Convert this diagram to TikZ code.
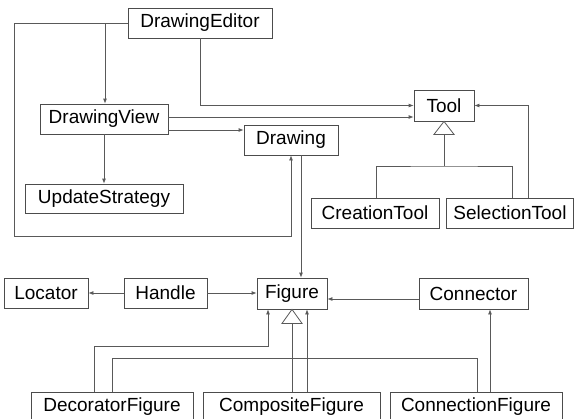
\documentclass[tikz,border=0pt]{standalone}
\usepackage{fontspec}
\setmainfont{Liberation Sans}
\usetikzlibrary{arrows.meta}
\begin{document}
\begin{tikzpicture}[x=1pt,y=-1pt,
  cls/.style={draw=black!70,line width=0.8pt,fill=white,inner sep=0pt,
    minimum height=30pt,font=\fontsize{19}{22}\selectfont,text=black},
  conn/.style={draw=black!65,line width=0.8pt},
  arr/.style={conn,-{Latex[length=5pt,width=4pt]}},
  inh/.style={draw=black!65,line width=0.8pt,fill=white}]
\useasboundingbox (0,0) rectangle (575,418);
% classes
\node[cls,minimum width=144pt] (de) at (200,23) {DrawingEditor};
\node[cls,minimum width=128pt] (dv) at (104,119) {DrawingView};
\node[cls,minimum width=158pt,minimum height=29pt] (us) at (104,198.5) {UpdateStrategy};
\node[cls,minimum width=94pt] (dr) at (291,140) {Drawing};
\node[cls,minimum width=60pt,minimum height=31pt] (tool) at (444,105.5) {Tool};
\node[cls,minimum width=128pt] (ct) at (375,213) {CreationTool};
\node[cls,minimum width=127pt] (st) at (510,213) {SelectionTool};
\node[cls,minimum width=84pt] (loc) at (46,293) {Locator};
\node[cls,minimum width=83pt] (hd) at (165.5,293) {Handle};
\node[cls,minimum width=70pt,minimum height=31pt] (fig) at (292,293.5) {Figure};
\node[cls,minimum width=109pt,minimum height=31pt] (cn) at (473.5,293.5) {Connector};
\node[cls,minimum width=162pt] (df) at (112,407) {DecoratorFigure};
\node[cls,minimum width=177pt] (cf) at (291.5,407) {CompositeFigure};
\node[cls,minimum width=172pt] (cxf) at (476,407) {ConnectionFigure};
% coordinates
\coordinate (loopL) at (14,236);
\coordinate (b1) at (105,23);
\coordinate (tb) at (444,134);
\coordinate (tbar) at (444,166);
\coordinate (fb) at (292,323);
% DrawingEditor connections
\draw[arr] (de.west) -| (loopL) -| (dr.south);
\draw[arr] (b1) -- (b1 |- dv.north);
\draw[arr] (de.south) |- (tool.west);
% DrawingView connections
\draw[arr] (dv.east |- 0,117) -- (tool.west |- 0,117);
\draw[arr] (dv.east |- 0,130) -- (dr.west |- 0,130);
\draw[arr] (dv.south) -- (us.north);
% Tool inheritance
\draw[inh] (tool.south) -- ++(10,13) -- ++(-20,0) -- cycle;
\draw[conn] (tb) -- (tbar);
\draw[conn] (ct.north -| 376,0) |- (tbar) -| (st.north -| 512,0);
\draw[arr] (st.north -| 528,0) |- (tool.east);
% Drawing -> Figure
\draw[arr] (dr.south -| 301,0) -- (fig.north -| 301,0);
% Handle
\draw[arr] (hd.west) -- (loc.east);
\draw[arr] (hd.east) -- (fig.west |- hd.east);
% Connector -> Figure
\draw[arr] (cn.west |- 0,299) -- (fig.east |- 0,299);
% Decorator
\draw[arr] (df.north -| 94,0) |- (268,346) -- (fig.south -| 268,0);
\draw[conn] (df.north -| 112,0) |- (477,358) -- (cxf.north -| 477,0);
% Composite
\draw[inh] (fig.south -| fb) -- ++(10,14) -- ++(-20,0) -- cycle;
\draw[conn] (cf.north -| fb) -- (fb);
\draw[arr] (cf.north -| 307,0) -- (fig.south -| 307,0);
% ConnectionFigure -> Connector
\draw[arr] (cxf.north -| 490,0) -- (cn.south -| 490,0);
\end{tikzpicture}
\end{document}
